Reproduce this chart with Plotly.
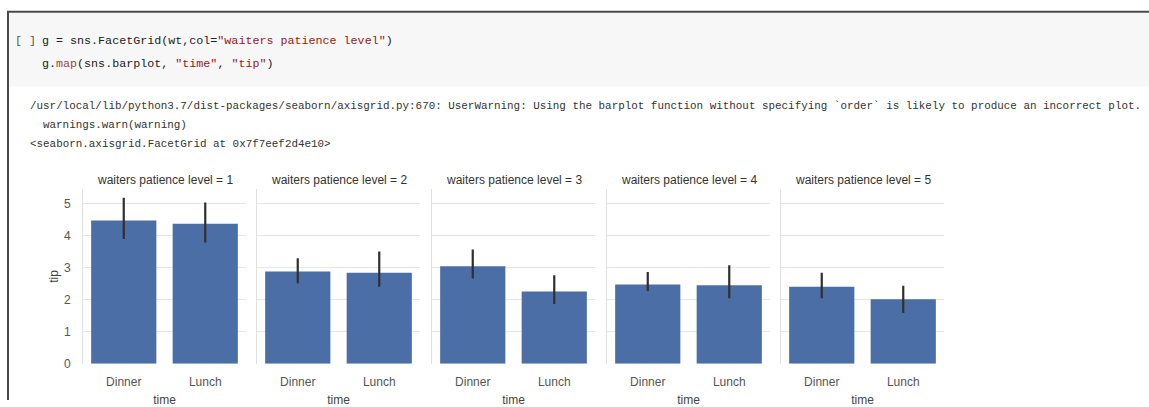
import plotly.graph_objects as go

# ---- data -------------------------------------------------------------
patience_levels = [1, 2, 3, 4, 5]
times = ["Dinner", "Lunch"]

dinner_tip = [4.47, 2.88, 3.04, 2.47, 2.40]
lunch_tip = [4.37, 2.84, 2.25, 2.45, 2.01]

dinner_ci_low = [3.89, 2.51, 2.66, 2.27, 2.04]
dinner_ci_high = [5.18, 3.29, 3.56, 2.86, 2.84]
lunch_ci_low = [3.78, 2.40, 1.86, 2.04, 1.58]
lunch_ci_high = [5.03, 3.50, 2.76, 3.07, 2.43]

y_ticks = [0, 1, 2, 3, 4, 5]

code_lines = [
    'g = sns.FacetGrid(wt,col=<span style="color:#a31515">"waiters patience level"</span>)',
    'g.<span style="color:#a0453a">map</span>(sns.barplot, <span style="color:#a31515">"time"</span>, '
    '<span style="color:#a31515">"tip"</span>)',
]
output_lines = [
    "/usr/local/lib/python3.7/dist-packages/seaborn/axisgrid.py:670: UserWarning: "
    "Using the barplot function without specifying `order` is likely to produce an incorrect plot.",
    "warnings.warn(warning)",
    "&lt;seaborn.axisgrid.FacetGrid at 0x7f7eef2d4e10&gt;",
]

# ---- page geometry (pixels) ----------------------------------------------
W, H = 1149, 407
BAR_COLOR = "#4c6ea6"
ERR_COLOR = "#2f2f2f"
GRID_COLOR = "#e6e6e6"
SANS = "Liberation Sans, Arial, sans-serif"
MONO = "Liberation Mono, DejaVu Sans Mono, monospace"

panel_left = [83, 257, 432, 607, 781]
panel_w = 163
y_bottom_px, y_top_px = 370, 192.7


def px_x(v):
    return v / W


def px_y(v):
    return (H - v) / H


fig = go.Figure()
layout = {}
annotations = []

for i, lvl in enumerate(patience_levels):
    n = "" if i == 0 else str(i + 1)
    means = [dinner_tip[i], lunch_tip[i]]
    lows = [dinner_ci_low[i], lunch_ci_low[i]]
    highs = [dinner_ci_high[i], lunch_ci_high[i]]
    fig.add_trace(go.Bar(
        x=times, y=means,
        marker=dict(color=BAR_COLOR, line=dict(width=0)),
        error_y=dict(type="data", symmetric=False,
                     array=[h - m for h, m in zip(highs, means)],
                     arrayminus=[m - l for m, l in zip(means, lows)],
                     color=ERR_COLOR, thickness=2.2, width=0),
        xaxis="x" + n, yaxis="y" + n, showlegend=False,
    ))
    left = panel_left[i]
    layout["xaxis" + n] = dict(
        domain=[px_x(left), px_x(left + panel_w)],
        anchor="y" + n, type="category", range=[-0.5, 1.5],
        showgrid=False, zeroline=False, showline=False, ticks="",
        ticklabelstandoff=9,
        tickfont=dict(family=SANS, size=12, color="#555"),
        title=dict(text="time", standoff=8,
                   font=dict(family=SANS, size=12, color="#444")),
    )
    layout["yaxis" + n] = dict(
        domain=[px_y(y_bottom_px), px_y(y_top_px)],
        anchor="x" + n, range=[0, 5.44],
        tickvals=y_ticks, showgrid=True, gridcolor=GRID_COLOR, gridwidth=1.3,
        zeroline=False, showline=True, linecolor="#e0e0e0", linewidth=1,
        ticks="", showticklabels=(i == 0), ticklabelstandoff=9,
        tickfont=dict(family=SANS, size=12, color="#555"),
    )
    if i > 0:
        layout["yaxis" + n]["matches"] = "y"
    else:
        layout["yaxis"]["title"] = dict(text="tip", standoff=2,
                                        font=dict(family=SANS, size=12, color="#444"))
    annotations.append(dict(
        text=f"waiters patience level = {lvl}",
        x=px_x(left + panel_w / 2), y=px_y(183), xref="paper", yref="paper",
        xanchor="center", yanchor="middle", showarrow=False,
        font=dict(family=SANS, size=12, color="#333"),
    ))

# notebook cell text
annotations.append(dict(text="[ ]", x=px_x(13), y=px_y(42), xref="paper", yref="paper",
                        xanchor="left", yanchor="middle", showarrow=False,
                        font=dict(family=MONO, size=11.7, color="#555")))
for line, ypx in zip(code_lines, [42, 65]):
    annotations.append(dict(text=line, x=px_x(40), y=px_y(ypx), xref="paper", yref="paper",
                            xanchor="left", yanchor="middle", showarrow=False,
                            font=dict(family=MONO, size=11.7, color="#222")))
for line, xpx, ypx in zip(output_lines, [28, 41, 28], [108, 127, 147]):
    annotations.append(dict(text=line, x=px_x(xpx), y=px_y(ypx), xref="paper", yref="paper",
                            xanchor="left", yanchor="middle", showarrow=False,
                            font=dict(family=MONO, size=10.9, color="#333")))

shapes = [
    # code cell background
    dict(type="rect", xref="paper", yref="paper", x0=px_x(9), x1=1, y0=px_y(88), y1=px_y(13),
         fillcolor="#f7f7f7", line=dict(width=0), layer="below"),
    # cell frame
    dict(type="line", xref="paper", yref="paper", x0=px_x(7), x1=1, y0=px_y(12), y1=px_y(12),
         line=dict(color="#4a4a4a", width=2)),
    dict(type="line", xref="paper", yref="paper", x0=px_x(8), x1=px_x(8), y0=0, y1=px_y(12),
         line=dict(color="#4a4a4a", width=2)),
]

fig.update_layout(
    width=W, height=H,
    margin=dict(l=0, r=0, t=0, b=0),
    paper_bgcolor="white", plot_bgcolor="white",
    bargap=0.2,
    annotations=annotations, shapes=shapes,
    **layout,
)

fig.write_html("out.html")
